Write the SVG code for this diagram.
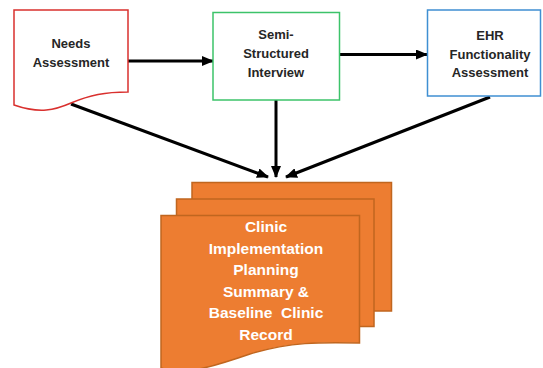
<svg xmlns="http://www.w3.org/2000/svg" width="543" height="368" viewBox="0 0 543 368">
<defs>
<marker id="ah" markerUnits="userSpaceOnUse" markerWidth="12" markerHeight="10" refX="11" refY="5" orient="auto">
<path d="M0,0 L12,5 L0,10 z" fill="#000"/>
</marker>
<style>
.lbl{font-family:"Liberation Sans",Arial,sans-serif;font-weight:bold;font-size:13px;fill:#262626;text-anchor:middle}
.big{font-family:"Liberation Sans",Arial,sans-serif;font-weight:bold;font-size:15.5px;fill:#fff;text-anchor:middle}
.conn{stroke:#000;stroke-width:3;fill:none;marker-end:url(#ah)}
.page{fill:#ED7D31;stroke:#C0661F;stroke-width:1.5}
</style>
</defs>
<rect width="543" height="368" fill="#fff"/>
<g id="connectors">
<line class="conn" x1="128" y1="61" x2="213" y2="61"/>
<line class="conn" x1="340" y1="54.5" x2="427" y2="54.5"/>
<line class="conn" x1="71" y1="104" x2="268" y2="177"/>
<line class="conn" x1="276" y1="100" x2="276" y2="177"/>
<line class="conn" x1="490" y1="97" x2="286" y2="177"/>
</g>
<g id="needs">
<path d="M14,10 H128 V92 C105,92 90,95 71,103 C55,110 40,114 14,105 Z" fill="#fff" stroke="#D9302E" stroke-width="1.5"/>
<text class="lbl" x="71" y="48">Needs</text>
<text class="lbl" x="71" y="67">Assessment</text>
</g>
<g id="interview">
<rect x="213" y="12.5" width="126.5" height="87.5" fill="#fff" stroke="#3CC36A" stroke-width="1.5"/>
<text class="lbl" x="276" y="39">Semi-</text>
<text class="lbl" x="276" y="58">Structured</text>
<text class="lbl" x="276" y="77">Interview</text>
</g>
<g id="ehr">
<rect x="427.5" y="10" width="113" height="86" fill="#fff" stroke="#3F8FD2" stroke-width="1.5"/>
<text class="lbl" x="490" y="40">EHR</text>
<text class="lbl" x="490" y="58.5">Functionality</text>
<text class="lbl" x="490" y="77">Assessment</text>
</g>
<g id="summary">
<rect class="page" x="192" y="182.5" width="199.5" height="128.5"/>
<rect class="page" x="176.5" y="199" width="197.5" height="127.5"/>
<path class="page" d="M161,215.5 H359.5 V343 C320,342 290,342 250,354 C215,366 185,376 161,368 Z"/>
<text class="big" x="266" y="232">Clinic</text>
<text class="big" x="266" y="253.5">Implementation</text>
<text class="big" x="266" y="275">Planning</text>
<text class="big" x="266" y="296.5">Summary &amp;</text>
<text class="big" x="266" y="318" xml:space="preserve">Baseline  Clinic</text>
<text class="big" x="266" y="339.5">Record</text>
</g>
</svg>
